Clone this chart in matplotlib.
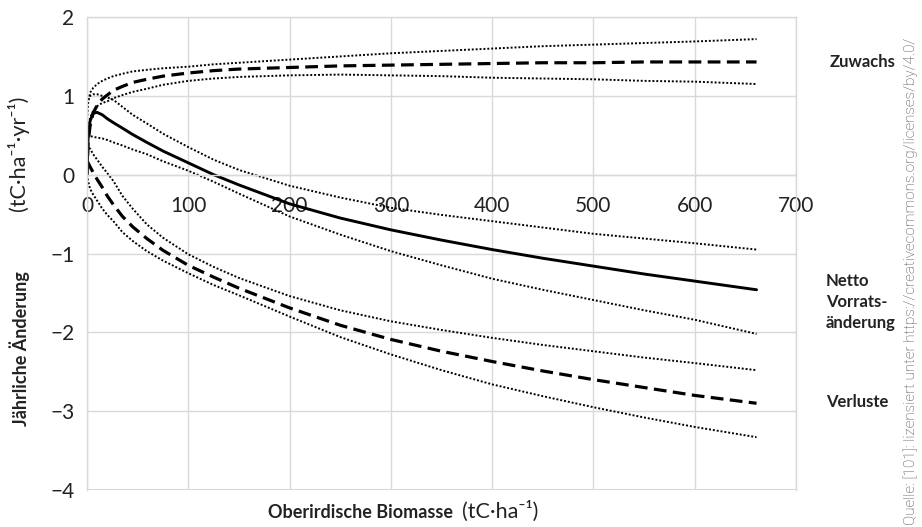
import matplotlib
matplotlib.use("Agg")
import matplotlib.pyplot as plt

plt.rcParams['font.family'] = ['Lato', 'DejaVu Sans']

# Oberirdische Biomasse (tC/ha)
biomasse = [0, 1, 3, 6, 10, 15, 20, 26, 35, 45, 59, 75, 100, 125, 150,
            200, 250, 300, 350, 400, 450, 500, 550, 600, 661]

# Zuwachs (gestrichelt) mit Unsicherheitsband (gepunktet)
zuwachs = [0.0, 0.40, 0.62, 0.78, 0.88, 0.96, 1.01, 1.07, 1.12, 1.17, 1.21, 1.25, 1.29, 1.32, 1.34,
           1.36, 1.38, 1.39, 1.40, 1.41, 1.42, 1.42, 1.43, 1.43, 1.43]
zuwachs_oben = [0.70, 0.90, 1.04, 1.10, 1.15, 1.19, 1.22, 1.25, 1.28, 1.31, 1.33, 1.35, 1.37, 1.40, 1.42,
                1.46, 1.50, 1.54, 1.57, 1.60, 1.63, 1.65, 1.67, 1.69, 1.72]
zuwachs_unten = [0.45, 0.55, 0.72, 0.81, 0.87, 0.91, 0.93, 0.97, 1.01, 1.05, 1.09, 1.14, 1.19, 1.22, 1.24,
                 1.26, 1.27, 1.26, 1.25, 1.23, 1.22, 1.21, 1.19, 1.18, 1.15]

# Netto Vorratsänderung (durchgezogen)
netto = [0.0, 0.45, 0.68, 0.78, 0.79, 0.76, 0.71, 0.66, 0.59, 0.51, 0.41, 0.30, 0.15, 0.0, -0.13,
         -0.37, -0.55, -0.70, -0.83, -0.95, -1.06, -1.16, -1.26, -1.35, -1.46]
netto_oben = [0.90, 0.95, 1.00, 1.02, 1.02, 1.00, 0.98, 0.95, 0.86, 0.76, 0.65, 0.52, 0.35, 0.19, 0.06,
              -0.14, -0.29, -0.42, -0.51, -0.59, -0.67, -0.75, -0.81, -0.87, -0.95]
netto_unten = [0.50, 0.50, 0.49, 0.48, 0.47, 0.46, 0.44, 0.41, 0.37, 0.32, 0.26, 0.17, 0.05, -0.09, -0.24,
               -0.53, -0.76, -0.97, -1.15, -1.32, -1.46, -1.59, -1.72, -1.84, -2.02]

# Verluste
verluste = [0.18, 0.15, 0.10, 0.03, -0.06, -0.16, -0.27, -0.38, -0.53, -0.66, -0.81, -0.96, -1.15, -1.30, -1.44,
            -1.69, -1.91, -2.09, -2.24, -2.37, -2.49, -2.60, -2.70, -2.80, -2.90]
verluste_oben = [0.38, 0.35, 0.33, 0.26, 0.19, 0.10, 0.02, -0.08, -0.27, -0.43, -0.63, -0.80, -1.01, -1.17, -1.31,
                 -1.54, -1.72, -1.86, -1.97, -2.07, -2.16, -2.24, -2.32, -2.39, -2.48]
verluste_unten = [0.0, -0.08, -0.18, -0.25, -0.33, -0.43, -0.51, -0.59, -0.73, -0.84, -0.97, -1.09, -1.25, -1.40, -1.53,
                  -1.80, -2.06, -2.28, -2.48, -2.66, -2.81, -2.95, -3.08, -3.20, -3.33]

x_ticks = [0, 100, 200, 300, 400, 500, 600, 700]
y_ticks = [-4, -3, -2, -1, 0, 1, 2]

grau = '#d9d9d9'
schrift = '#222222'
dotted = (0, (1, 1))
dashed = (0, (4, 2))

fig = plt.figure(figsize=(9.22, 5.27), dpi=100)
ax = fig.add_axes([0.0944, 0.0702, 0.7690, 0.8975])

for oben, unten in [(zuwachs_oben, zuwachs_unten), (netto_oben, netto_unten), (verluste_oben, verluste_unten)]:
    ax.plot(biomasse, oben, color='black', lw=1.4, ls=dotted)
    ax.plot(biomasse, unten, color='black', lw=1.4, ls=dotted)
ax.plot(biomasse, zuwachs, color='black', lw=2.3, ls=dashed)
ax.plot(biomasse, verluste, color='black', lw=2.3, ls=dashed)
ax.plot(biomasse, netto, color='black', lw=2.1, solid_capstyle='round')

ax.set_xlim(0, 700)
ax.set_ylim(-4, 2)
ax.set_xticks(x_ticks)
ax.set_yticks(y_ticks)
ax.set_yticklabels([str(v).replace('-', '\u2212') for v in y_ticks])
ax.grid(True, color=grau, lw=1)
ax.set_axisbelow(True)
for s in ax.spines.values():
    s.set_color(grau)
    s.set_linewidth(1)
ax.spines['bottom'].set_position(('data', 0))
ax.tick_params(length=0, labelsize=15, colors=schrift)
ax.tick_params(axis='x', pad=15)
ax.tick_params(axis='y', pad=9)
# unterer Rahmen bei -4
ax.axhline(-4, color=grau, lw=1.5, zorder=0)

# Achsentitel
fig.text(0.020, 0.710, '(tC\u00b7ha\u207b\u00b9\u00b7yr\u207b\u00b9)', rotation=90, fontsize=15.5,
         ha='center', va='center', color=schrift)
fig.text(0.021, 0.338, 'Jährliche Änderung', rotation=90, fontsize=13, fontweight='bold',
         ha='center', va='center', color=schrift)
fig.text(0.3915, 0.027, 'Oberirdische Biomasse', fontsize=13, fontweight='bold',
         ha='center', va='center', color=schrift)
fig.text(0.543, 0.030, '(tC\u00b7ha\u207b\u00b9)', fontsize=15.5,
         ha='center', va='center', color=schrift)

# Beschriftungen rechts
fig.text(0.900, 0.882, 'Zuwachs', fontsize=12, fontweight='bold', ha='left', va='center', color=schrift)
fig.text(0.896, 0.427, 'Netto\nVorrats-\nänderung', fontsize=12, fontweight='bold', ha='left', va='center',
         color=schrift, linespacing=1.4)
fig.text(0.896, 0.237, 'Verluste', fontsize=12, fontweight='bold', ha='left', va='center', color=schrift)

fig.text(0.988, 0.003, 'Quelle: [101]: lizensiert unter https://creativecommons.org/licenses/by/4.0/',
         rotation=90, fontsize=11, ha='center', va='bottom', color='#444444',
         family=['Roboto', 'DejaVu Sans'], fontweight='light')

fig.savefig('out.png', dpi=100)
